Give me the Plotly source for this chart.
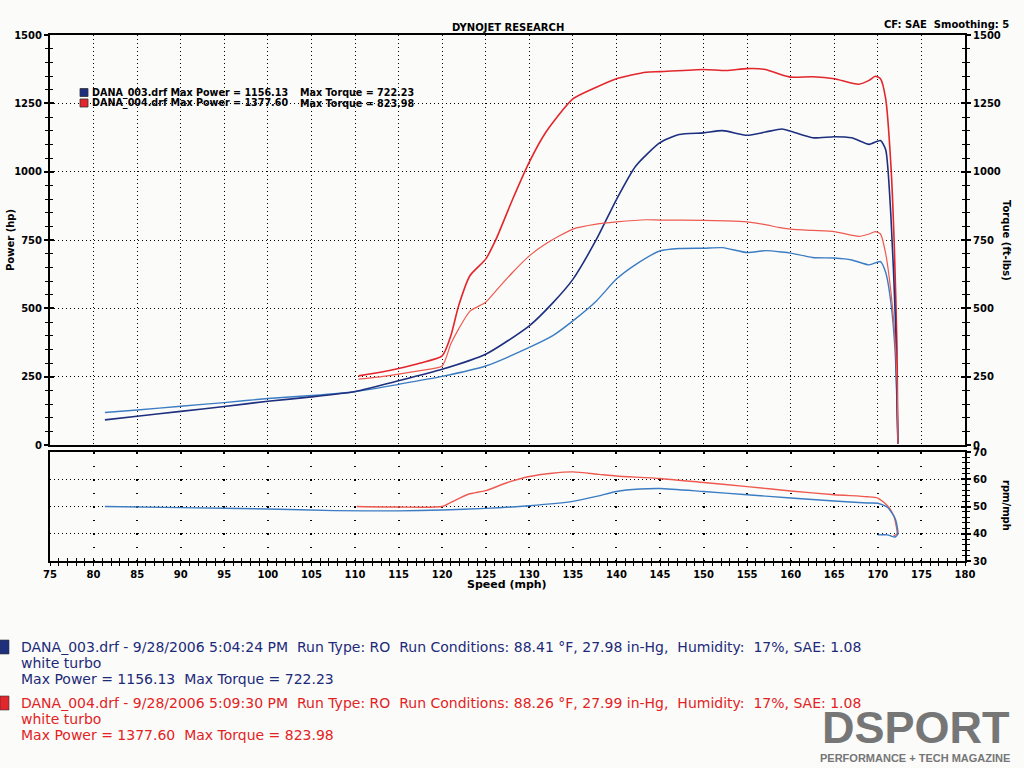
import plotly.graph_objects as go

# ---------------- data ----------------
# Run DANA_003 (blue)
speed_003 = [81.3, 85, 90, 95, 100, 105, 110, 115, 120, 125, 130, 132.7, 135, 137.7, 140, 142.2, 145,
             147.2, 150, 152.2, 155, 157.1, 159, 160, 162.5, 165, 167, 169, 170.3, 170.9, 171.5, 172, 172.3]
power_003 = [92, 105, 123, 141, 160, 176, 196, 235, 277, 332, 436, 520, 606, 752, 898, 1020, 1106,
             1136, 1142, 1150, 1133, 1145, 1156, 1148, 1124, 1128, 1124, 1100, 1114, 1080, 836, 470, 5]
torque_003 = [119, 128, 142, 155, 170, 181, 195, 222, 251, 289, 357, 400, 454, 527, 607, 660, 710,
              719, 720, 722, 704, 711, 706, 702, 686, 684, 677, 659, 671, 631, 520, 330, 5]

# Run DANA_004 (red)
speed_004 = [110.4, 112.9, 115, 117.5, 120, 121, 121.9, 123.2, 125, 126.2, 128.1, 130, 131.9, 135, 137.7,
             140, 143.4, 145, 150, 152.6, 155, 157.1, 158.6, 160, 162.5, 165, 167.8, 169, 169.7, 170.3,
             170.9, 171.5, 171.9, 172.2, 172.3]
power_004 = [253, 266, 280, 300, 326, 400, 510, 620, 680, 754, 900, 1035, 1144, 1266, 1309,
             1340, 1364, 1366, 1374, 1370, 1377, 1374, 1358, 1346, 1347, 1340, 1320, 1334, 1349, 1340,
             1266, 1022, 716, 350, 5]
torque_004 = [241, 249, 259, 272, 289, 370, 425, 490, 522, 565, 632, 692, 736, 790, 808,
              816, 824, 823, 822, 820, 816, 806, 796, 790, 785, 781, 763, 772, 781, 772,
              700, 560, 420, 230, 5]

# rpm/mph traces
rpm_speed_003 = [81.3, 90, 100, 107.6, 115, 120, 125, 130, 135, 137.7, 140, 142.7, 145, 150, 155, 160,
                 165, 168.8, 170, 171.1, 172, 172.3, 172, 171.1, 170]
rpm_003 = [50, 49.6, 49.1, 48.5, 48.4, 48.7, 49.3, 50.3, 51.9, 53.7, 55.5, 56.4, 56.6, 55.5, 54.3, 53.1,
           52.0, 51.3, 51.2, 49.7, 45.5, 40, 38.8, 39.6, 39.6]
rpm_speed_004 = [110.2, 115, 120, 121, 123, 125, 127.5, 130, 132.6, 135, 138, 140, 145, 150, 155, 160,
                 165, 168.8, 170, 171.1, 171.8, 172.1, 172.2, 171.8]
rpm_004 = [50, 49.8, 50, 51.5, 54.5, 55.8, 58.8, 61, 62.2, 62.7, 61.8, 61.2, 60.3, 58.8, 57.3, 55.7,
           54.3, 53.6, 53.1, 50.3, 46.7, 43, 40, 39.2]

speed_ticks = list(range(75, 181, 5))
power_ticks = list(range(0, 1501, 250))
rpm_ticks = [30, 40, 50, 60, 70]

run_names = ["DANA_003.drf", "DANA_004.drf"]
max_power = ["1156.13", "1377.60"]
max_torque = ["722.23", "823.98"]
run_times = ["9/28/2006 5:04:24 PM", "9/28/2006 5:09:30 PM"]
run_temp = ["88.41", "88.26"]
run_press = ["27.98", "27.99"]

# ---------------- styles ----------------
NAVY = "#1d2f7e"
LBLUE = "#3b7cc2"
RED = "#e3262b"
LRED = "#ee5a50"
TXT_BLUE = "#1c2a78"
TXT_RED = "#e2231f"
FONT = "DejaVu Sans"
BG = "#fbfbfa"

W, H = 1024, 768
L, R, T, B = 50, 59, 35, 207
PW, PH = W - L - R, H - T - B


def px(x):
    return (x - L) / PW


def py(y):
    return (H - B - y) / PH


top_dom = [py(445), 1]
bot_dom = [0, py(452)]

fig = go.Figure()
sp = dict(shape="spline", smoothing=0.6)
# each trace sits on its own (identically ranged) axis so that outside + inside ticks both render
fig.add_trace(go.Scatter(x=speed_003, y=torque_003, mode="lines", line=dict(color=LBLUE, width=1.4, **sp),
                         xaxis="x", yaxis="y2", showlegend=False))
fig.add_trace(go.Scatter(x=speed_004, y=torque_004, mode="lines", line=dict(color=LRED, width=1.2, **sp),
                         xaxis="x", yaxis="y6", showlegend=False))
fig.add_trace(go.Scatter(x=speed_003, y=power_003, mode="lines", line=dict(color=NAVY, width=1.6, **sp),
                         xaxis="x", yaxis="y5", showlegend=False))
fig.add_trace(go.Scatter(x=speed_004, y=power_004, mode="lines", line=dict(color=RED, width=1.6, **sp),
                         xaxis="x", yaxis="y", showlegend=False))
fig.add_trace(go.Scatter(x=rpm_speed_004, y=rpm_004, mode="lines", line=dict(color=LRED, width=1.4, **sp),
                         xaxis="x2", yaxis="y3", showlegend=False))
fig.add_trace(go.Scatter(x=rpm_speed_003, y=rpm_003, mode="lines", line=dict(color=LBLUE, width=1.4, **sp),
                         xaxis="x3", yaxis="y4", showlegend=False))

tickfont = dict(family=FONT, size=10, color="black", weight="bold")
AX = dict(showline=True, linecolor="black", linewidth=2, zeroline=False)
NOAX = dict(showgrid=False, showline=False, zeroline=False, showticklabels=False)


def mt(dt, kind, ln, w=1.4):
    return dict(dtick=dt, ticks=kind, ticklen=ln, tickcolor="black", tickwidth=w, showgrid=False)


fig.update_layout(
    width=W, height=H,
    margin=dict(l=L, r=R, t=T, b=B),
    paper_bgcolor=BG, plot_bgcolor=BG,
    font=dict(family=FONT, color="black"),
    xaxis=dict(domain=[0, 1], anchor="y", range=[75, 180], tickvals=speed_ticks, showticklabels=False,
               ticks="", showgrid=True, gridcolor="black", gridwidth=1, griddash="1px,3px",
               mirror=True, **AX),
    yaxis=dict(domain=top_dom, anchor="x", range=[0, 1500], tickvals=power_ticks, ticks="outside",
               ticklen=4, tickwidth=1.5, tickcolor="black", tickfont=tickfont, minor=mt(50, "outside", 3),
               showgrid=True, gridcolor="black", gridwidth=1, griddash="1px,3px", **AX),
    yaxis5=dict(domain=top_dom, anchor="x", overlaying="y", side="left", range=[0, 1500], tickvals=power_ticks,
                ticks="inside", ticklen=4, tickwidth=1.5, tickcolor="black", minor=mt(50, "inside", 3), **NOAX),
    yaxis2=dict(domain=top_dom, anchor="x", overlaying="y", side="right", range=[0, 1500], tickvals=power_ticks,
                ticks="outside", ticklen=4, tickwidth=1.5, tickcolor="black", tickfont=tickfont,
                minor=mt(50, "outside", 3), showgrid=False, **AX),
    yaxis6=dict(domain=top_dom, anchor="x", overlaying="y", side="right", range=[0, 1500], tickvals=power_ticks,
                ticks="inside", ticklen=4, tickwidth=1.5, tickcolor="black", minor=mt(50, "inside", 3), **NOAX),
    xaxis2=dict(domain=[0, 1], anchor="y3", range=[75, 180], tickvals=speed_ticks, ticks="outside",
                ticklen=3, tickwidth=1.4, tickcolor="black", tickfont=tickfont, minor=mt(1, "outside", 3, 1.2),
                showgrid=True, gridcolor="black", gridwidth=1.5, griddash="1.5px,12px",
                mirror=True, **AX),
    xaxis3=dict(domain=[0, 1], anchor="y4", overlaying="x2", range=[75, 180], tickvals=speed_ticks,
                ticks="inside", ticklen=3, tickwidth=1.4, tickcolor="black", minor=mt(1, "inside", 3, 1.2),
                **NOAX),
    yaxis3=dict(domain=bot_dom, anchor="x2", side="right", range=[30, 70], tickvals=rpm_ticks,
                ticks="outside", ticklen=4, tickwidth=1.5, tickcolor="black", tickfont=tickfont,
                minor=mt(2, "outside", 3, 1.2), mirror=True,
                showgrid=True, gridcolor="black", gridwidth=1, griddash="1px,3px", **AX),
    yaxis4=dict(domain=bot_dom, anchor="x3", overlaying="y3", side="right", range=[30, 70], tickvals=rpm_ticks,
                ticks="inside", ticklen=4, tickwidth=1.5, tickcolor="black", minor=mt(2, "inside", 3, 1.2),
                **NOAX),
)

ann = []
bold = dict(family=FONT, size=10, color="black", weight="bold")


def add_text(text, x, y, font, xanchor="left", yanchor="middle", angle=0):
    ann.append(dict(text=text, x=px(x), y=py(y), xref="paper", yref="paper", showarrow=False,
                    xanchor=xanchor, yanchor=yanchor, font=font, textangle=angle))


add_text("DYNOJET RESEARCH", 508, 27, bold, xanchor="center")
add_text("CF: SAE  Smoothing: 5", 1011, 25, bold, xanchor="right")
add_text("Power (hp)", 11, 240, bold, xanchor="center", angle=-90)
add_text("Torque (ft-lbs)", 1006, 240, bold, xanchor="center", angle=90)
add_text("rpm/mph", 1007, 505, bold, xanchor="center", angle=90)
add_text("Speed (mph)", 507, 584, dict(family=FONT, size=11, color="black", weight="bold"), xanchor="center")

legend_font = dict(family=FONT, size=9.6, color="black", weight="bold")
shapes = []
for i, (nm, mp, mq, col) in enumerate(zip(run_names, max_power, max_torque, [NAVY, RED])):
    yc = 92.5 + i * 10.5
    add_text(f"{nm} Max Power = {mp}", 90, yc, legend_font)
    add_text(f"Max Torque = {mq}", 298, yc, legend_font)
    shapes.append(dict(type="rect", xref="paper", yref="paper", x0=px(80), x1=px(88), y0=py(yc - 4),
                       y1=py(yc + 4), fillcolor=col, line=dict(color="#333", width=0.8)))

info_font_size = 14
for i, (nm, tm, tp, pr, col) in enumerate(zip(run_names, run_times, run_temp, run_press, [TXT_BLUE, TXT_RED])):
    y0 = 647 + i * 56
    f = dict(family=FONT, size=info_font_size, color=col)
    add_text(f"{nm} - {tm}  Run Type: RO  Run Conditions: {tp} °F, {pr} in-Hg,  Humidity:  17%, SAE: 1.08",
             19, y0, f)
    add_text("white turbo", 19, y0 + 16, f)
    add_text(f"Max Power = {max_power[i]}  Max Torque = {max_torque[i]}", 19, y0 + 32, f)
    shapes.append(dict(type="rect", xref="paper", yref="paper", x0=px(0), x1=px(9), y0=py(y0 + 7),
                       y1=py(y0 - 7), fillcolor=[NAVY, RED][i], line=dict(color="#333", width=0.6)))

add_text("DSPORT", 1012, 727, dict(family="Liberation Sans", size=45, color="#767676", weight="bold"),
         xanchor="right")
add_text("PERFORMANCE + TECH MAGAZINE", 1012, 758,
         dict(family="Liberation Sans", size=11, color="#767676", weight="bold"), xanchor="right")

fig.update_layout(annotations=ann, shapes=shapes)
fig.write_html("out.html", config={"displayModeBar": False},
               post_script="document.body.style.margin='0';document.body.style.overflow='hidden';")
